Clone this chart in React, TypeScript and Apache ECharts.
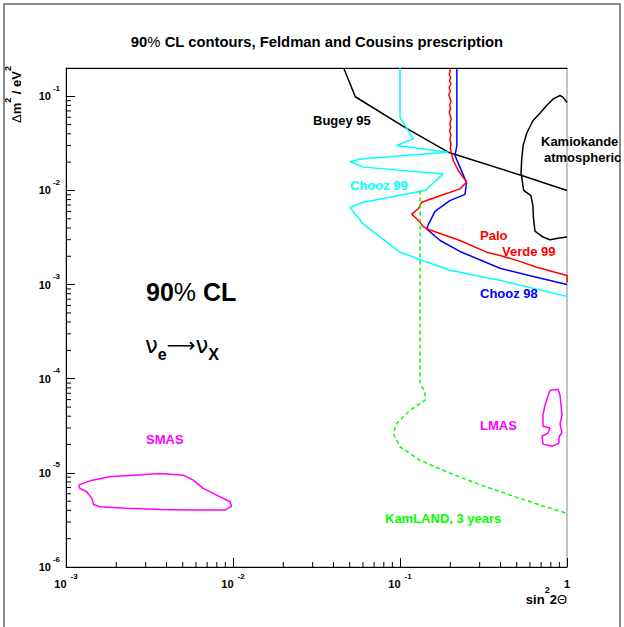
import React, { useEffect, useRef } from "react";
import * as echarts from "echarts";

// ---- axis ranges & tick structure ----
const X_MIN = 1e-3;
const X_MAX = 1;
const Y_MIN = 1e-6;
const Y_MAX = 0.2;
const xDecades = [-3, -2, -1];
const yDecades = [-6, -5, -4, -3, -2, -1];
const minorMultipliers = [2, 3, 4, 5, 6, 7, 8, 9];

// ---- curves (sin^2 2theta, dm^2) ----
const bugey95 = [
  [0.046, 0.2], [0.054, 0.099], [0.107, 0.0469], [0.1945, 0.0255],
  [0.536, 0.0144], [1.0, 0.01],
];

const kamiokande = [
  [1.0, 0.086], [0.946, 0.098], [0.908, 0.102], [0.828, 0.094], [0.755, 0.08],
  [0.689, 0.066], [0.625, 0.055], [0.575, 0.041], [0.546, 0.03], [0.535, 0.021],
  [0.531, 0.0155], [0.55, 0.01], [0.608, 0.0088], [0.625, 0.0069], [0.629, 0.0052],
  [0.643, 0.0037], [0.718, 0.0032], [0.791, 0.003], [0.883, 0.0031], [1.0, 0.0032],
];

const chooz99 = [
  [0.1, 0.2], [0.1, 0.0598], [0.12, 0.0353], [0.0955, 0.03], [0.1945, 0.0255],
  [0.0603, 0.0217], [0.0502, 0.0203], [0.0603, 0.0177], [0.1815, 0.015],
  [0.1413, 0.01], [0.0603, 0.0075], [0.0502, 0.0066], [0.0603, 0.0044],
  [0.1, 0.00221], [0.199, 0.00142], [0.397, 0.00111], [1.0, 0.00075],
];

const chooz98 = [
  [0.219, 0.2], [0.219, 0.03], [0.2133, 0.0235], [0.2285, 0.0177], [0.2505, 0.0121],
  [0.2449, 0.0091], [0.199, 0.0078], [0.162, 0.006], [0.147, 0.00425],
  [0.1445, 0.0039], [0.1738, 0.00294], [0.2285, 0.00225], [0.397, 0.00149],
  [0.628, 0.00122], [1.0, 0.001],
];

const paloVerde99 = [
  [0.198, 0.2], [0.2, 0.185], [0.197, 0.172], [0.201, 0.158], [0.198, 0.147],
  [0.202, 0.136], [0.197, 0.124], [0.2, 0.113], [0.196, 0.104], [0.199, 0.096],
  [0.202, 0.088], [0.198, 0.081], [0.201, 0.074], [0.197, 0.068], [0.2, 0.062],
  [0.203, 0.057], [0.199, 0.052], [0.201, 0.047], [0.198, 0.043], [0.202, 0.039],
  [0.199, 0.035], [0.202, 0.031], [0.2, 0.028], [0.2084, 0.0208], [0.2234, 0.0163],
  [0.2505, 0.01225], [0.2285, 0.0104], [0.1738, 0.0088], [0.1349, 0.0075],
  [0.1289, 0.0064], [0.1175, 0.0056], [0.1259, 0.005], [0.1318, 0.0046],
  [0.138, 0.0041], [0.1514, 0.0038], [0.2285, 0.00294], [0.3304, 0.00221],
  [0.397, 0.00204], [0.5, 0.00181], [0.659, 0.00153], [0.951, 0.00128],
  [1.0, 0.00125], [1.0, 0.00106],
];

const kamland3y = [
  [0.132, 0.01], [0.132, 8.9e-5], [0.1413, 7.24e-5], [0.1413, 5.92e-5],
  [0.1148, 4.63e-5], [0.0955, 3.35e-5], [0.0912, 2.62e-5], [0.1, 1.89e-5],
  [0.1318, 1.36e-5], [0.1905, 1.025e-5], [0.2877, 7.73e-6], [0.456, 5.81e-6],
  [0.689, 4.55e-6], [1.0, 3.72e-6],
];

const lmas = [
  [0.791, 7.55e-5], [0.883, 7.73e-5], [0.908, 6.68e-5], [0.921, 5.24e-5],
  [0.933, 4.1e-5], [0.908, 3.29e-5], [0.933, 2.7e-5], [0.895, 2.39e-5],
  [0.895, 2.07e-5], [0.813, 1.92e-5], [0.718, 2.02e-5], [0.708, 2.45e-5],
  [0.769, 2.64e-5], [0.791, 2.99e-5], [0.718, 3.13e-5], [0.718, 4.1e-5],
  [0.738, 5.24e-5], [0.769, 6.52e-5], [0.791, 7.55e-5],
];

const smas = [
  [0.00119, 7.41e-6], [0.00139, 8.23e-6], [0.00183, 9.08e-6], [0.00253, 9.46e-6],
  [0.00366, 9.86e-6], [0.00504, 9.46e-6], [0.00578, 8.37e-6], [0.00664, 6.84e-6],
  [0.00798, 5.81e-6], [0.0096, 4.93e-6], [0.0098, 4.44e-6], [0.00895, 4.03e-6],
  [0.00578, 4.03e-6], [0.00366, 4.09e-6], [0.00231, 4.2e-6], [0.0016, 4.37e-6],
  [0.00146, 4.62e-6], [0.00143, 5.36e-6], [0.00133, 6.3e-6], [0.00121, 6.84e-6],
  [0.00119, 7.41e-6],
];

const FONT = '"Liberation Sans", Arial, Helvetica, sans-serif';
const DEJAVU = '"DejaVu Sans", sans-serif';

const powLabel = (v: number) => {
  const l = Math.log10(v);
  const e = Math.round(l);
  if (Math.abs(l - e) > 1e-6) return "";
  if (e === 0) return "{b|1}";
  return `{b|10}{s|${e}}`;
};

const labelRich = (padLeft: number) => ({
  b: { fontFamily: FONT, fontWeight: "bold", fontSize: 11, lineHeight: 24, color: "#000" },
  s: {
    fontFamily: FONT, fontWeight: "bold", fontSize: 8, lineHeight: 8,
    verticalAlign: "top", padding: [0, 0, 0, padLeft], color: "#000",
  },
});

export default function App() {
  const ref = useRef<HTMLDivElement>(null);

  useEffect(() => {
    if (!ref.current) return;
    const chart = echarts.init(ref.current, null, { renderer: "svg" });

    const xMinor: number[][] = [];
    xDecades.forEach((d) =>
      minorMultipliers.forEach((k) => {
        const v = k * Math.pow(10, d);
        if (v < X_MAX) xMinor.push([v, Y_MIN]);
      })
    );
    const yMinor: number[][] = [];
    yDecades.forEach((d) =>
      minorMultipliers.forEach((k) => {
        const v = k * Math.pow(10, d);
        if (v < Y_MAX * 0.999) yMinor.push([X_MIN, v]);
      })
    );

    const line = (name: string, data: number[][], color: string, extra: any = {}) => ({
      name,
      type: "line",
      data,
      showSymbol: false,
      symbol: "none",
      smooth: false,
      clip: true,
      lineStyle: { color, width: 1.5, ...extra },
      z: 3,
    });

    const bold = (size: number) => `bold ${size}px ${FONT}`;
    const label = (x: number, y: number, text: string, color: string, align = "left") => ({
      type: "text",
      x,
      y,
      z: 20,
      style: { text, fill: color, font: bold(13), align, verticalAlign: "middle" },
    });

    const option: any = {
      animation: false,
      backgroundColor: "#fff",
      grid: {
        left: 66, top: 68, right: 57, bottom: 60,
        show: true, borderColor: "#888", borderWidth: 1,
        backgroundColor: "transparent",
        outerBoundsMode: "none",
      },
      xAxis: [
        {
          type: "log", logBase: 10, min: X_MIN, max: X_MAX, position: "bottom",
          axisLine: { show: true, lineStyle: { color: "#000", width: 1 } },
          axisTick: { show: true, inside: true, length: 9, lineStyle: { color: "#000", width: 1 } },
          axisLabel: {
            show: true, margin: 5, formatter: powLabel, rich: labelRich(4),
            showMinLabel: true, showMaxLabel: true, hideOverlap: false,
          },
          splitLine: { show: false },
          minorTick: { show: false },
        },
        {
          type: "log", logBase: 10, min: X_MIN, max: X_MAX, position: "top",
          axisLine: { show: true, lineStyle: { color: "#000", width: 1 } },
          axisTick: { show: false }, axisLabel: { show: false }, splitLine: { show: false },
        },
      ],
      yAxis: [
        {
          type: "log", logBase: 10, min: Y_MIN, max: Y_MAX, position: "left",
          axisLine: { show: true, lineStyle: { color: "#000", width: 1 } },
          axisTick: { show: true, inside: true, length: 9, lineStyle: { color: "#000", width: 1 } },
          axisLabel: {
            show: true, margin: 6, formatter: powLabel, rich: labelRich(2),
            showMinLabel: true, showMaxLabel: true, hideOverlap: false,
          },
          splitLine: { show: false },
          minorTick: { show: false },
        },
      ],
      series: [
        line("Bugey 95", bugey95, "#000"),
        line("Kamiokande", kamiokande, "#000"),
        line("Chooz 99", chooz99, "#00ffff"),
        line("Chooz 98", chooz98, "#0000ff"),
        line("Palo Verde 99", paloVerde99, "#ff0000"),
        line("KamLAND", kamland3y, "#00ff00", { type: [4, 3], width: 1.5 }),
        line("LMAS", lmas, "#ff00ff"),
        line("SMAS", smas, "#ff00ff"),
        {
          type: "custom",
          data: xMinor,
          clip: false,
          z: 5,
          renderItem: (_p: any, api: any) => {
            const c = api.coord([api.value(0), api.value(1)]);
            return {
              type: "line",
              shape: { x1: c[0], y1: c[1], x2: c[0], y2: c[1] - 5 },
              style: { stroke: "#000", lineWidth: 1 },
            };
          },
        },
        {
          type: "custom",
          data: yMinor,
          clip: false,
          z: 5,
          renderItem: (_p: any, api: any) => {
            const c = api.coord([api.value(0), api.value(1)]);
            return {
              type: "line",
              shape: { x1: c[0], y1: c[1], x2: c[0] + 5, y2: c[1] },
              style: { stroke: "#000", lineWidth: 1 },
            };
          },
        },
      ],
      graphic: [
        {
          type: "rect", z: 0, silent: true,
          shape: { x: 4, y: 4, width: 616, height: 700 },
          style: { fill: "none", stroke: "#8c8c8c", lineWidth: 2 },
        },
        {
          type: "text", x: 317, y: 42, z: 20,
          style: {
            text: "{b|90}{p|%}{b| CL contours, Feldman and Cousins prescription}",
            align: "center", verticalAlign: "middle",
            rich: {
              b: { fontFamily: FONT, fontWeight: "bold", fontSize: 14.8, fill: "#000" },
              p: { fontFamily: FONT, fontWeight: "normal", fontSize: 14.8, fill: "#000" },
            },
          },
        },
        {
          type: "text", x: 16, y: 66, z: 20, rotation: Math.PI / 2,
          style: {
            text: "{d|Δ}{b|m}{s|2}{b| / eV}{s|2}",
            align: "right", verticalAlign: "middle",
            rich: {
              d: { fontFamily: FONT, fontWeight: "normal", fontSize: 13, lineHeight: 26, fill: "#000" },
              b: { fontFamily: FONT, fontWeight: "bold", fontSize: 13, lineHeight: 26, fill: "#000" },
              s: { fontFamily: FONT, fontWeight: "bold", fontSize: 9, lineHeight: 9, verticalAlign: "top", fill: "#000" },
            },
          },
        },
        {
          type: "text", x: 567, y: 599, z: 20,
          style: {
            text: "{b|sin}{s|2}{b|2}{t|Θ}",
            align: "right", verticalAlign: "middle",
            rich: {
              b: { fontFamily: FONT, fontWeight: "bold", fontSize: 13, lineHeight: 28, fill: "#000" },
              t: { fontFamily: FONT, fontWeight: "normal", fontSize: 13, lineHeight: 28, fill: "#000" },
              s: { fontFamily: FONT, fontWeight: "bold", fontSize: 9, lineHeight: 9, verticalAlign: "top", fill: "#000" },
            },
          },
        },
        {
          type: "text", x: 146, y: 292, z: 20,
          style: {
            text: "{b|90}{p|%}{b| CL}",
            align: "left", verticalAlign: "middle",
            rich: {
              b: { fontFamily: FONT, fontWeight: "bold", fontSize: 25, fill: "#000" },
              p: { fontFamily: FONT, fontWeight: "normal", fontSize: 25, fill: "#000" },
            },
          },
        },
        {
          type: "text", x: 145, y: 345, z: 20,
          style: {
            text: "{n|ν}{u|e}{a|⟶}{n|ν}{u|X}",
            align: "left", verticalAlign: "middle",
            rich: {
              n: { fontFamily: DEJAVU, fontWeight: "normal", fontSize: 23, lineHeight: 34, fill: "#000" },
              a: { fontFamily: DEJAVU, fontWeight: "normal", fontSize: 20, lineHeight: 34, fill: "#000" },
              u: { fontFamily: FONT, fontWeight: "bold", fontSize: 16, lineHeight: 16, verticalAlign: "bottom", fill: "#000" },
            },
          },
        },
        label(313, 120, "Bugey 95", "#000"),
        label(541, 141, "Kamiokande", "#000"),
        label(544, 157, "atmospheric", "#000"),
        label(350, 185, "Chooz 99", "#00ffff"),
        label(480, 235, "Palo", "#ff0000"),
        label(502, 251, "Verde 99", "#ff0000"),
        label(480, 293, "Chooz 98", "#0000ff"),
        label(480, 425, "LMAS", "#ff00ff"),
        label(146, 439, "SMAS", "#ff00ff"),
        label(385, 518, "KamLAND, 3 years", "#00ff00"),
      ],
    };

    chart.setOption(option);
    return () => chart.dispose();
  }, []);

  return (
    <div
      ref={ref}
      style={{ position: "fixed", left: 0, top: 0, width: 624, height: 627, background: "#fff" }}
    />
  );
}
